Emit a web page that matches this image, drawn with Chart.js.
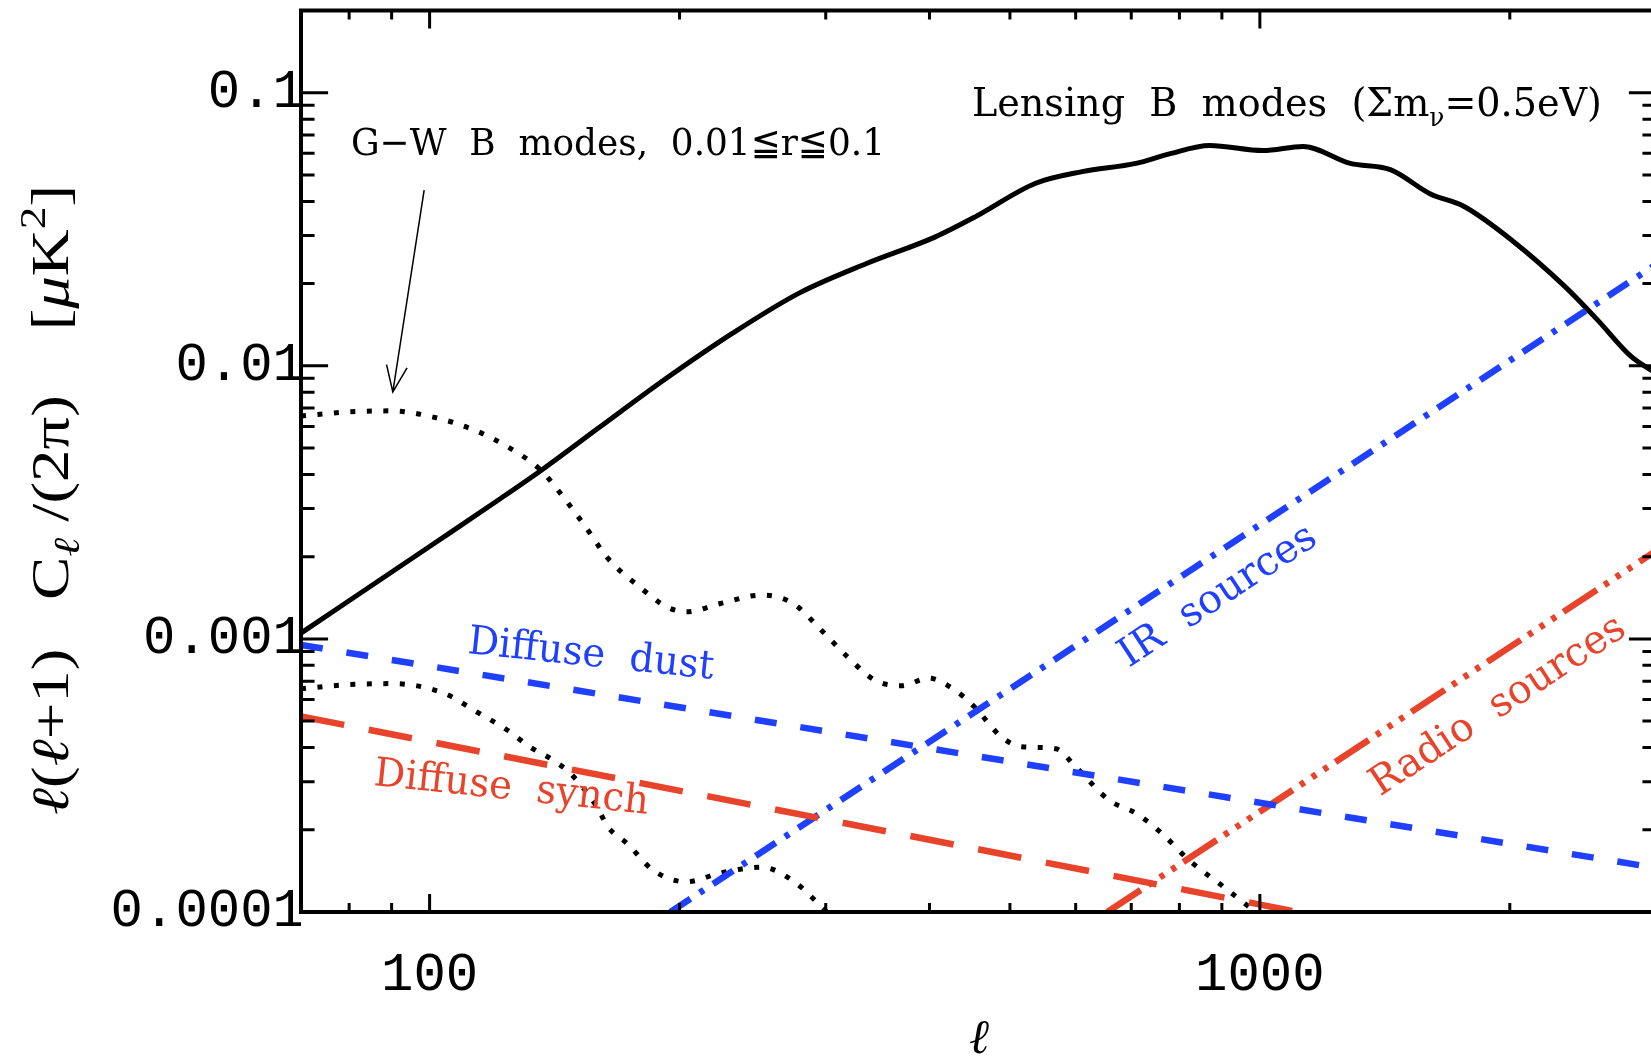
<!DOCTYPE html>
<html>
<head>
<meta charset="utf-8">
<title>B-mode power spectra and foregrounds</title>
<script src="https://cdn.jsdelivr.net/npm/chart.js@4.4.1/dist/chart.umd.min.js"></script>
<style>
  html, body { margin: 0; padding: 0; background: #ffffff; overflow: hidden; }
  canvas { display: block; }
</style>
</head>
<body>
<canvas id="spectra" width="1660" height="1057"></canvas>
<script>
// ---- Axis ranges -------------------------------------------------------
const ellMin = 70, ellMax = 3000;
const powerMin = 0.0001, powerMax = 0.2;

// ---- Lensing B modes (sum of neutrino masses 0.5 eV) --------------------
const lensingEll   = [70, 100, 122, 137, 160, 193, 232, 279, 336, 406, 454, 537, 611, 709, 778, 870, 1009, 1127, 1285, 1436, 1605, 1762, 2009, 2331, 2552, 2802, 3000];
const lensingPower = [0.00105, 0.00218, 0.00328, 0.00419, 0.00594, 0.00902, 0.0132, 0.0185, 0.0237, 0.0296, 0.0351, 0.0466, 0.0514, 0.0551, 0.0597, 0.0641, 0.0614, 0.0636, 0.0551, 0.0523, 0.0426, 0.0383, 0.0289, 0.0195, 0.0147, 0.0108, 0.0094];

// ---- Gravity-wave B modes, r = 0.1 ---------------------------------------
const gwHighEll   = [70, 80, 90, 101, 113, 124, 136, 144, 154, 164, 179, 193, 204, 224, 251, 274, 296, 319, 344, 370, 399, 429, 453, 489, 517, 568, 600, 659, 709, 762, 823, 903, 988];
const gwHighPower = [0.00655, 0.00678, 0.00684, 0.00649, 0.00583, 0.00506, 0.00416, 0.00339, 0.00258, 0.00197, 0.00155, 0.00131, 0.001256, 0.001348, 0.001447, 0.001348, 0.00108, 0.000857, 0.000705, 0.000674, 0.000718, 0.00065, 0.000564, 0.000436, 0.000403, 0.000396, 0.00034, 0.000256, 0.00023, 0.000194, 0.000154, 0.000124, 0.0001];

// ---- Gravity-wave B modes, r = 0.01 --------------------------------------
const gwLowEll   = [70, 80, 90, 104, 114, 124, 132, 141, 148, 159, 164, 173, 186, 204, 224, 251, 274, 301];
const gwLowPower = [0.000657, 0.00068, 0.000686, 0.000633, 0.00054, 0.000464, 0.000403, 0.000359, 0.00032, 0.000243, 0.000205, 0.000178, 0.000142, 0.000129, 0.000139, 0.000146, 0.00013, 0.0001];

// ---- Foregrounds ----------------------------------------------------------
const dustEll    = [70, 3000];
const dustPower  = [0.00095, 0.000145];
const synchEll   = [70, 1111];
const synchPower = [0.00052, 0.0001];
const irEll      = [195, 3000];
const irPower    = [0.0001, 0.0235];
const radioEll   = [655, 3000];
const radioPower = [0.0001, 0.0021];

// ---- Ticks ----------------------------------------------------------------
const xTickValues  = [70, 80, 90, 100, 200, 300, 400, 500, 600, 700, 800, 900, 1000, 2000, 3000];
const xLabelValues = [100, 1000];
const xLabelTexts  = ['100', '1000'];
const yTickValues  = [0.0001, 0.0002, 0.0003, 0.0004, 0.0005, 0.0006, 0.0007, 0.0008, 0.0009,
                      0.001, 0.002, 0.003, 0.004, 0.005, 0.006, 0.007, 0.008, 0.009,
                      0.01, 0.02, 0.03, 0.04, 0.05, 0.06, 0.07, 0.08, 0.09,
                      0.1, 0.2];
const yLabelValues = [0.0001, 0.001, 0.01, 0.1];
const yLabelTexts  = ['0.0001', '0.001', '0.01', '0.1'];

const BLUE = '#1f40ff';
const RED  = '#e8432b';
const SERIF = "'DejaVu Serif', 'DejaVu Sans', serif";
const TITLE_SERIF = "'Liberation Serif', 'DejaVu Serif', serif";

const toPoints = (xs, ys) => xs.map((x, i) => ({ x, y: ys[i] }));
const sameValue = (a, b) => Math.abs(Math.log10(a) - Math.log10(b)) < 1e-6;
const labelFor = (values, texts, v) => {
  const i = values.findIndex(t => sameValue(t, v));
  return i >= 0 ? texts[i] : '';
};

function line(opts) {
  return Object.assign({
    showLine: true, pointRadius: 0, fill: false, clip: 0,
    borderCapStyle: 'butt', borderJoinStyle: 'round'
  }, opts);
}

// Rich text: segments with optional scale, vertical offset (in em) and italics,
// stretched horizontally to a given length and optionally rotated.
function drawRich(ctx, segs, o) {
  ctx.save();
  ctx.translate(o.x, o.y);
  ctx.rotate(o.angle || 0);
  const fontOf = s => `${s.italic ? 'italic ' : ''}${(o.size * (s.scale || 1)).toFixed(1)}px ${o.family}`;
  let total = 0;
  const widths = segs.map(s => {
    ctx.font = fontOf(s);
    const w = ctx.measureText(s.text).width;
    total += w;
    return w;
  });
  const sx = o.width ? o.width / total : 1;
  ctx.scale(sx, 1);
  let cx = o.align === 'center' ? -total / 2 : 0;
  ctx.fillStyle = o.color || '#000';
  ctx.textAlign = 'left';
  ctx.textBaseline = 'alphabetic';
  segs.forEach((s, i) => {
    ctx.font = fontOf(s);
    ctx.fillText(s.text, cx, (s.dy || 0) * o.size);
    cx += widths[i];
  });
  ctx.restore();
}

// Frame, inward tick marks, axis titles and curve annotations
const frameAndNotes = {
  id: 'frameAndNotes',
  afterDraw(chart) {
    const { ctx, chartArea: a, scales: { x, y } } = chart;
    const X = v => x.getPixelForValue(v);
    const Y = v => y.getPixelForValue(v);
    ctx.save();

    // tick marks pointing into the plot on all four sides
    const xLen = (a.bottom - a.top) * 0.02;
    const yLen = (a.right - a.left) * 0.02;
    ctx.strokeStyle = '#000';
    ctx.lineWidth = 3;
    ctx.beginPath();
    x.ticks.forEach(t => {
      const px = X(t.value);
      const L = t.major ? xLen : xLen / 2;
      ctx.moveTo(px, a.bottom); ctx.lineTo(px, a.bottom - L);
      ctx.moveTo(px, a.top);    ctx.lineTo(px, a.top + L);
    });
    y.ticks.forEach(t => {
      const py = Y(t.value);
      const L = t.major ? yLen : yLen / 2;
      ctx.moveTo(a.left, py);  ctx.lineTo(a.left + L, py);
      ctx.moveTo(a.right, py); ctx.lineTo(a.right - L, py);
    });
    ctx.stroke();

    // frame
    ctx.lineWidth = 4;
    ctx.strokeRect(a.left, a.top, a.right - a.left, a.bottom - a.top);

    // axis titles
    drawRich(ctx, [
      { text: 'ℓ', italic: true }, { text: '(' }, { text: 'ℓ', italic: true }, { text: '+1)   C' },
      { text: 'ℓ', italic: true, scale: 0.7, dy: 0.22 },
      { text: ' /(2π)    [' }, { text: 'μ', italic: true }, { text: 'K' },
      { text: '2', scale: 0.7, dy: -0.45 }, { text: ']' }
    ], { x: 68, y: 500, angle: -Math.PI / 2, width: 630, size: 52, family: TITLE_SERIF, align: 'center' });

    drawRich(ctx, [{ text: 'ℓ', italic: true }],
      { x: 979, y: 1053, size: 48, family: TITLE_SERIF, align: 'center' });

    // curve annotations
    drawRich(ctx, [
      { text: 'Lensing  B  modes  (Σm' }, { text: 'ν', scale: 0.65, dy: 0.25 }, { text: '=0.5eV)' }
    ], { x: X(450), y: Y(0.0822), width: 630, size: 40, family: SERIF });

    drawRich(ctx, [{ text: 'G−W  B  modes,  0.01≦r≦0.1' }],
      { x: X(80.4), y: Y(0.0591), width: 534, size: 38, family: SERIF });

    drawRich(ctx, [{ text: 'Diffuse  dust' }],
      { x: X(110.9), y: Y(0.000888), angle: 0.105, width: 247, size: 40, family: SERIF, color: BLUE });

    drawRich(ctx, [{ text: 'Diffuse  synch' }],
      { x: X(85.5), y: Y(0.000292), angle: 0.105, width: 276, size: 40, family: SERIF, color: RED });

    drawRich(ctx, [{ text: 'IR  sources' }],
      { x: X(695), y: Y(0.000782), angle: -0.581, width: 228, size: 40, family: SERIF, color: BLUE });

    drawRich(ctx, [{ text: 'Radio  sources' }],
      { x: X(1395), y: Y(0.000264), angle: -0.581, width: 297, size: 40, family: SERIF, color: RED });

    // arrow pointing at the r = 0.1 gravity-wave curve
    const ax0 = X(98.5), ay0 = Y(0.044), ax1 = X(90.3), ay1 = Y(0.00802);
    const ang = Math.atan2(ay1 - ay0, ax1 - ax0);
    const head = 28, spread = 0.38;
    ctx.strokeStyle = '#000';
    ctx.lineWidth = 1.5;
    ctx.beginPath();
    ctx.moveTo(ax0, ay0); ctx.lineTo(ax1, ay1);
    ctx.moveTo(ax1 - head * Math.cos(ang - spread), ay1 - head * Math.sin(ang - spread));
    ctx.lineTo(ax1, ay1);
    ctx.lineTo(ax1 - head * Math.cos(ang + spread), ay1 - head * Math.sin(ang + spread));
    ctx.stroke();

    ctx.restore();
  }
};

const tickFont = { family: "'Liberation Mono', monospace", size: 54 };
const noPadding = s => { s.paddingTop = 0; s.paddingBottom = 0; s.paddingLeft = 0; s.paddingRight = 0; };

new Chart(document.getElementById('spectra'), {
  type: 'scatter',
  data: {
    datasets: [
      line({ label: 'Diffuse dust', data: toPoints(dustEll, dustPower), borderColor: BLUE, borderWidth: 6.5, borderDash: [22, 24] }),
      line({ label: 'Diffuse synch', data: toPoints(synchEll, synchPower), borderColor: RED, borderWidth: 6.5, borderDash: [44, 25] }),
      line({ label: 'IR sources', data: toPoints(irEll, irPower), borderColor: BLUE, borderWidth: 6.5, borderDash: [24, 11, 5, 11] }),
      line({ label: 'Radio sources', data: toPoints(radioEll, radioPower), borderColor: RED, borderWidth: 6.5, borderDash: [40, 9, 5, 9, 5, 9, 5, 9] }),
      line({ label: 'G-W B modes r=0.1', data: toPoints(gwHighEll, gwHighPower), borderColor: '#000', borderWidth: 5, borderDash: [5, 11.5], cubicInterpolationMode: 'monotone' }),
      line({ label: 'G-W B modes r=0.01', data: toPoints(gwLowEll, gwLowPower), borderColor: '#000', borderWidth: 5, borderDash: [5, 11.5], cubicInterpolationMode: 'monotone' }),
      line({ label: 'Lensing B modes', data: toPoints(lensingEll, lensingPower), borderColor: '#000', borderWidth: 5, cubicInterpolationMode: 'monotone' })
    ]
  },
  options: {
    responsive: false,
    animation: false,
    events: [],
    layout: { autoPadding: false, padding: { top: 10.5, right: 4, left: 0, bottom: 0 } },
    plugins: { legend: { display: false }, tooltip: { enabled: false }, title: { display: false } },
    scales: {
      x: {
        type: 'logarithmic', position: 'bottom', min: ellMin, max: ellMax,
        grid: { display: false }, border: { display: false },
        afterBuildTicks: s => { s.ticks = xTickValues.map(v => ({ value: v, major: xLabelValues.some(t => sameValue(t, v)) })); },
        afterFit: s => { s.height = 145; noPadding(s); },
        ticks: {
          autoSkip: false, maxRotation: 0, minRotation: 0, padding: 23, color: '#000', font: tickFont,
          callback: v => labelFor(xLabelValues, xLabelTexts, v)
        }
      },
      y: {
        type: 'logarithmic', position: 'left', min: powerMin, max: powerMax,
        grid: { display: false }, border: { display: false },
        afterBuildTicks: s => { s.ticks = yTickValues.map(v => ({ value: v, major: yLabelValues.some(t => sameValue(t, v)) })); },
        afterFit: s => { s.width = 301; noPadding(s); },
        ticks: {
          autoSkip: false, padding: -12, color: '#000', font: tickFont,
          callback: v => labelFor(yLabelValues, yLabelTexts, v)
        }
      }
    }
  },
  plugins: [frameAndNotes]
});
</script>
</body>
</html>
